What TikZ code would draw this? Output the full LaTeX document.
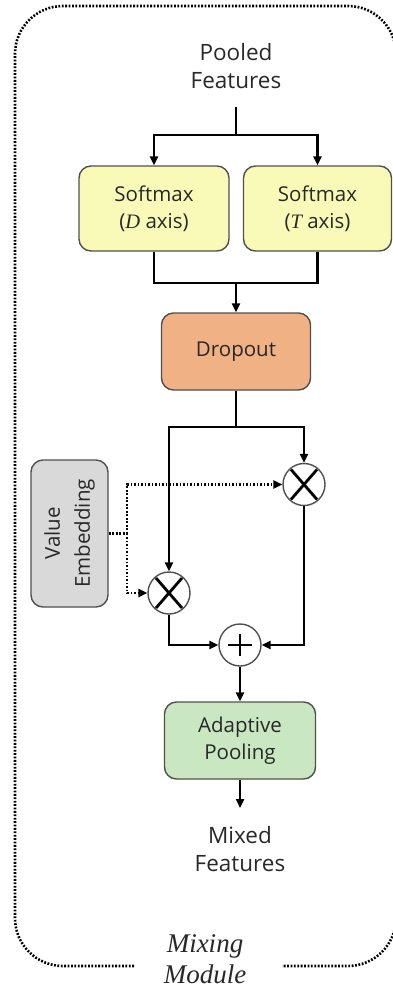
\documentclass[tikz,border=0pt]{standalone}
\usepackage{fontspec}
\setmainfont{Open Sans}
\newfontfamily\serifface{Liberation Serif}
\newcommand{\varit}[1]{{\serifface\itshape #1}}
\usetikzlibrary{arrows.meta,calc}

\definecolor{softyellow}{RGB}{250,250,184}
\definecolor{droporange}{RGB}{240,177,132}
\definecolor{poolgreen}{RGB}{201,232,193}
\definecolor{embgray}{RGB}{217,217,217}
\definecolor{edgegray}{RGB}{80,80,80}
\definecolor{txt}{RGB}{40,40,40}

\begin{document}
\begin{tikzpicture}[x=1pt,y=-1pt,
  stepbox/.style={draw=edgegray, line width=1.4pt, rounded corners=12pt,
    align=center, inner sep=0pt, text=txt,
    font=\fontsize{20.5}{27}\selectfont},
  label/.style={align=center, inner sep=0pt, text=txt,
    font=\fontsize{22.5}{28.5}\selectfont},
  opnode/.style={circle, draw=edgegray, line width=1.4pt, fill=white,
    minimum size=42pt, inner sep=0pt},
  wire/.style={line width=2.6pt},
  flow/.style={wire, -{Triangle[length=9pt,width=8pt]}},
  dotwire/.style={line width=2.6pt, dash pattern=on 1.8pt off 1.7pt},
  dotflow/.style={dotwire, -{Triangle[length=9pt,width=8pt]}},
  frame/.style={line width=2.6pt, dash pattern=on 1.8pt off 1.6pt,
    rounded corners=48pt}
]
\useasboundingbox (0,0) rectangle (393,988);

% outer frame of the module
\begin{scope}
\clip (0,0) rectangle (393,988);
\draw[frame] (134,966) -- (15,966) -- (15,6) -- (396,6) -- (396,966) -- (282,966);
\end{scope}
\node[label, font=\fontsize{27}{31}\selectfont\addfontfeatures{LetterSpace=5}] (title) at (205,959)
  {\varit{Mixing}\\\varit{Module}};

% input and softmax branches
\node[label] (pooled) at (236,66) {Pooled\\Features};
\coordinate (top) at (236,107);
\coordinate (fork) at (236,135);
\node[stepbox, fill=softyellow, minimum width=150pt, minimum height=85pt]
  (sd) at (154,208.5) {Softmax\\(\varit{D} axis)};
\node[stepbox, fill=softyellow, minimum width=148pt, minimum height=85pt]
  (st) at (317.5,208.5) {Softmax\\(\varit{T} axis)};
\draw[wire] (top) -- (fork);
\draw[flow] (fork) -| (sd.north);
\draw[flow] (fork) -| (st.north);

\coordinate (join) at (236,283);
\draw[wire] (sd.south) |- (join) -| (st.south);

\node[stepbox, fill=droporange, minimum width=149pt, minimum height=77pt]
  (drop) at (236,351.5) {Dropout};
\draw[flow] (join) -- (drop.north);

% weighting with the value embedding
\node[opnode] (m2) at (304,484.5) {};
\node[opnode] (m1) at (169,593) {};
\node[opnode] (plus) at (240,645) {};
\draw[line width=2.8pt] ($(m2)+(-13,-15)$) -- ($(m2)+(13,15)$);
\draw[line width=2.8pt] ($(m2)+(13,-15)$) -- ($(m2)+(-13,15)$);
\draw[line width=2.8pt] ($(m1)+(-13,-15)$) -- ($(m1)+(13,15)$);
\draw[line width=2.8pt] ($(m1)+(13,-15)$) -- ($(m1)+(-13,15)$);
\draw[line width=2.2pt] ($(plus)+(-12,0)$) -- ($(plus)+(12,0)$);
\draw[line width=2.2pt] ($(plus)+(0,-11)$) -- ($(plus)+(0,11)$);

\coordinate (fork2) at (236,427);
\draw[wire] (drop.south) -- (fork2);
\draw[flow] (fork2) -| (m1.north);
\draw[flow] (fork2) -| (m2.north);
\draw[flow] (m1.south) |- (plus.west);
\draw[flow] (m2.south) |- (plus.east);

\node[stepbox, fill=embgray, minimum width=77pt, minimum height=147pt]
  (ve) at (69.5,533.5) {};
\node[label, rotate=90, font=\fontsize{20.5}{30}\selectfont] (vetext) at (ve.center) {Value\\Embedding};
\coordinate (vj) at (127,533.5);
\draw[dotwire] (ve.east) -- (vj);
\draw[dotflow] (vj) |- (m2.west);
\draw[dotflow] (vj) |- (m1.west);

% pooling and output
\node[stepbox, fill=poolgreen, minimum width=151pt, minimum height=77pt]
  (ap) at (240,740.5) {Adaptive\\Pooling};
\draw[flow] (plus.south) -- (ap.north);
\coordinate (outend) at (240,808);
\draw[flow] (ap.south) -- (outend);
\node[label] (mixed) at (240,849) {Mixed\\Features};
\end{tikzpicture}
\end{document}
